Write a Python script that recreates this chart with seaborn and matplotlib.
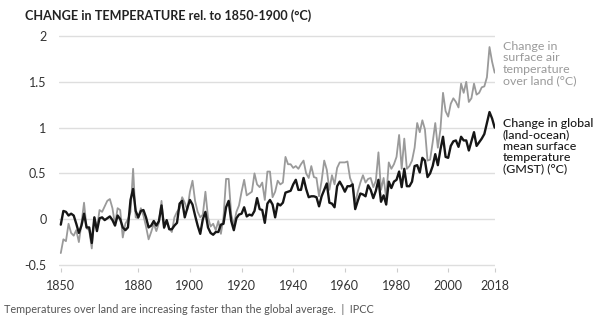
import matplotlib
matplotlib.use("Agg")
import matplotlib.pyplot as plt
import seaborn as sns
import pandas as pd

years = list(range(1850, 2019))

gmst = [
    -0.06, 0.09, 0.08, 0.04, 0.06, 0.04, -0.05, -0.15, -0.07, 0.06,
    -0.09, -0.09, -0.26, 0.02, -0.13, 0.01, 0.02, -0.01, 0.01, 0.03,
    -0.01, -0.07, 0.04, 0.00, -0.09, -0.12, -0.09, 0.21, 0.33, 0.09,
    0.02, 0.09, 0.10, 0.02, -0.09, -0.07, -0.02, -0.07, -0.02, 0.15,
    -0.09, -0.01, -0.11, -0.11, -0.07, -0.04, 0.17, 0.20, 0.02, 0.12,
    0.21, 0.16, 0.04, -0.07, -0.16, 0.00, 0.08, -0.09, -0.15, -0.17,
    -0.14, -0.14, -0.06, -0.05, 0.13, 0.20, -0.02, -0.12, 0.01, 0.05,
    0.06, 0.13, 0.03, 0.05, 0.04, 0.09, 0.23, 0.11, 0.10, -0.04,
    0.17, 0.21, 0.16, 0.02, 0.17, 0.15, 0.18, 0.29, 0.30, 0.31,
    0.38, 0.43, 0.32, 0.32, 0.45, 0.33, 0.24, 0.25, 0.25, 0.24,
    0.14, 0.25, 0.32, 0.39, 0.18, 0.17, 0.13, 0.36, 0.41, 0.36,
    0.30, 0.36, 0.36, 0.38, 0.11, 0.20, 0.28, 0.27, 0.25, 0.37,
    0.32, 0.23, 0.31, 0.43, 0.19, 0.26, 0.16, 0.41, 0.34, 0.41,
    0.43, 0.52, 0.35, 0.55, 0.36, 0.36, 0.41, 0.58, 0.59, 0.51,
    0.67, 0.64, 0.46, 0.50, 0.58, 0.71, 0.59, 0.76, 0.90, 0.68,
    0.67, 0.80, 0.85, 0.86, 0.79, 0.90, 0.86, 0.86, 0.75, 0.85,
    0.95, 0.80, 0.84, 0.88, 0.93, 1.05, 1.17, 1.10, 1.00,
]

land = [
    -0.37, -0.22, -0.24, -0.05, -0.15, -0.18, -0.12, -0.25, -0.05, 0.18,
    -0.10, -0.12, -0.32, 0.02, -0.10, 0.10, 0.08, 0.14, 0.20, 0.22,
    0.12, -0.06, 0.12, 0.10, -0.20, -0.05, 0.00, 0.08, 0.55, 0.02,
    0.01, 0.12, 0.04, -0.08, -0.22, -0.14, -0.05, -0.13, -0.04, 0.20,
    -0.10, -0.02, -0.10, -0.14, 0.02, 0.08, 0.12, 0.24, 0.18, 0.10,
    0.30, 0.42, 0.20, 0.08, 0.02, 0.05, 0.30, 0.02, -0.08, -0.05,
    -0.12, -0.02, -0.16, 0.02, 0.44, 0.44, 0.05, -0.06, 0.08, 0.15,
    0.30, 0.43, 0.26, 0.28, 0.30, 0.50, 0.38, 0.35, 0.40, 0.21,
    0.52, 0.52, 0.24, 0.30, 0.42, 0.38, 0.40, 0.68, 0.60, 0.60,
    0.56, 0.58, 0.55, 0.60, 0.64, 0.50, 0.45, 0.58, 0.46, 0.45,
    0.25, 0.42, 0.64, 0.54, 0.32, 0.48, 0.38, 0.56, 0.62, 0.62,
    0.62, 0.63, 0.45, 0.38, 0.17, 0.30, 0.40, 0.48, 0.40, 0.44,
    0.45, 0.35, 0.42, 0.73, 0.32, 0.45, 0.23, 0.62, 0.55, 0.60,
    0.68, 0.92, 0.55, 0.88, 0.55, 0.58, 0.64, 0.78, 1.05, 0.95,
    1.08, 0.98, 0.64, 0.65, 0.84, 1.05, 0.78, 0.98, 1.38, 1.18,
    1.12, 1.26, 1.32, 1.28, 1.22, 1.48, 1.38, 1.50, 1.28, 1.32,
    1.48, 1.36, 1.38, 1.44, 1.45, 1.55, 1.88, 1.72, 1.60,
]

xtick_years = [1850, 1880, 1900, 1920, 1940, 1960, 1980, 2000, 2018]
ytick_vals = [-0.5, 0, 0.5, 1, 1.5, 2]
ytick_labels = ["-0.5", "0", "0.5", "1", "1.5", "2"]

title = "CHANGE in TEMPERATURE rel. to 1850-1900 (°C)"
land_label = "Change in\nsurface air\ntemperature\nover land (°C)"
gmst_label = "Change in global\n(land-ocean)\nmean surface\ntemperature\n(GMST) (°C)"
caption = "Temperatures over land are increasing faster than the global average.  |  IPCC"

assert len(gmst) == len(years) and len(land) == len(years)

df = pd.DataFrame({"year": years, "land": land, "gmst": gmst})

sns.set_style("white")
plt.rcParams["font.family"] = ["Lato", "DejaVu Sans"]

fig = plt.figure(figsize=(6.0, 3.27), dpi=100)
ax = fig.add_axes([0.0983, 0.1813, 0.727, 0.7141])

for v in ytick_vals:
    ax.axhline(v, color="#dedede", lw=1.0, zorder=0)

sns.lineplot(data=df, x="year", y="land", color="#9a9a9a", lw=1.3, ax=ax, zorder=2)
sns.lineplot(data=df, x="year", y="gmst", color="#161616", lw=1.7, ax=ax, zorder=3)

ax.set_xlim(1849.3, 2018.2)
ax.set_ylim(-0.53, 2.02)
ax.set_xticks(xtick_years)
ax.set_xticklabels([str(y) for y in xtick_years])
ax.set_yticks(ytick_vals)
ax.set_yticklabels(ytick_labels)
ax.set_xlabel("")
ax.set_ylabel("")
for s in ax.spines.values():
    s.set_visible(False)
ax.tick_params(axis="x", length=3, width=0.8, color="#cccccc", pad=6,
               labelsize=9.0, labelcolor="#333333", direction="out", bottom=True)
ax.tick_params(axis="y", length=0, pad=9, labelsize=9.0, labelcolor="#333333")

fig.text(0.042, 0.972, title, fontsize=9.1, fontweight="bold", color="#222222",
         ha="left", va="top")
fig.text(0.838, 0.875, land_label, fontsize=8.9, color="#9a9a9a",
         ha="left", va="top", linespacing=1.05)
fig.text(0.838, 0.640, gmst_label, fontsize=8.9, color="#1a1a1a",
         ha="left", va="top", linespacing=1.05, fontweight="medium")
fig.text(0.007, 0.052, caption, fontsize=7.8, color="#555555",
         ha="left", va="center")

fig.savefig("out.png", dpi=100, facecolor="white")
